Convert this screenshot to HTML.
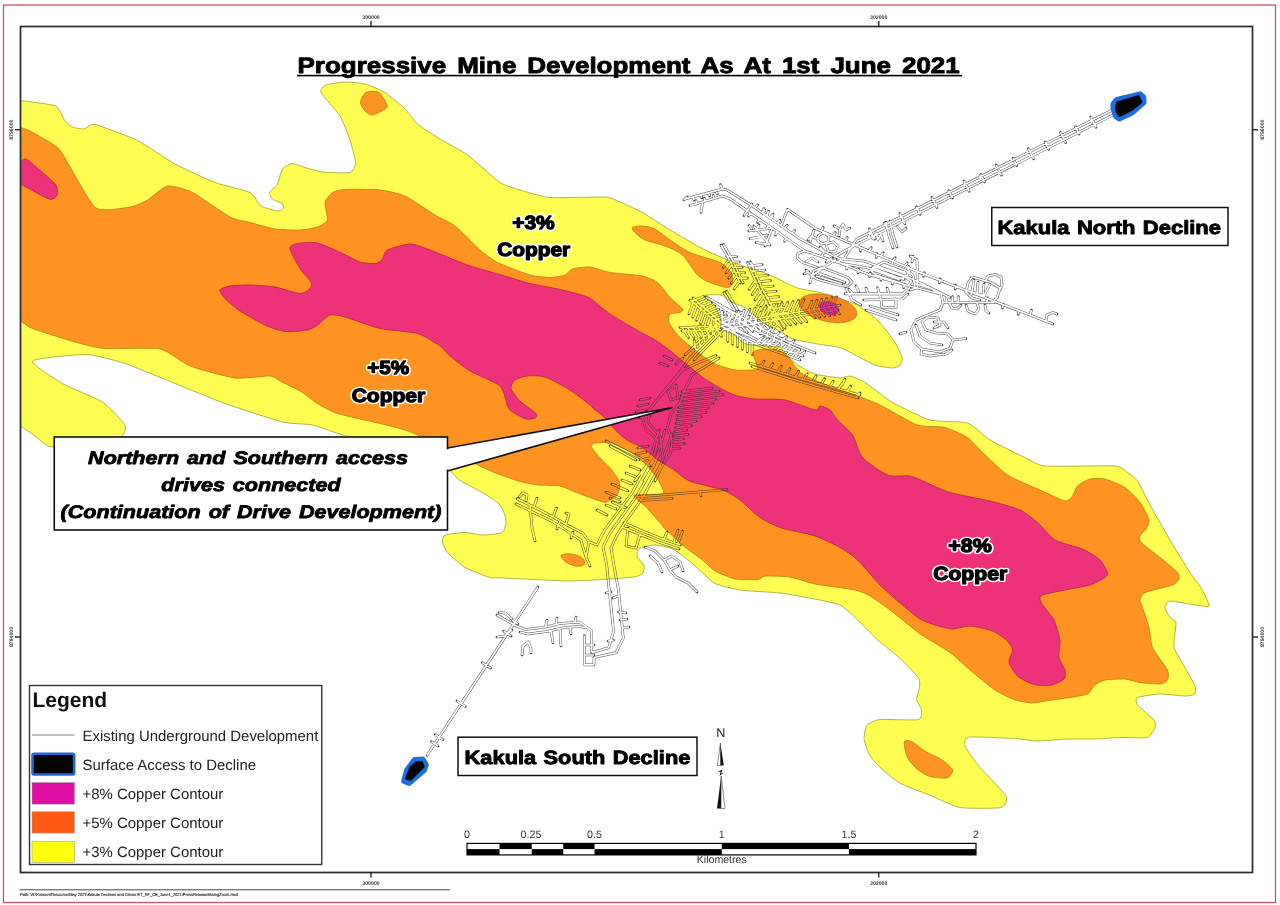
<!DOCTYPE html>
<html><head><meta charset="utf-8"><title>Progressive Mine Development As At 1st June 2021</title>
<style>
html,body{margin:0;padding:0;background:#fff;}
body{width:1280px;height:905px;overflow:hidden;font-family:"Liberation Sans", sans-serif;}
svg{display:block;font-family:"Liberation Sans", sans-serif;opacity:0.999;text-rendering:geometricPrecision;}
</style></head><body>
<svg width="1280" height="905" viewBox="0 0 1280 905">
<defs><clipPath id="frameclip"><rect x="20.5" y="26.5" width="1232" height="846"/></clipPath></defs>
<rect width="1280" height="905" fill="#fff"/>

<g clip-path="url(#frameclip)" stroke-linejoin="round">
<path d="M0.0,97.3 C1.9,68.8 15.4,99.7 20.5,100.5 C25.6,101.3 51.4,104.1 55.5,106.0 C59.6,107.9 63.4,119.1 65.0,121.0 C66.6,122.9 70.8,126.3 72.5,127.0 C74.2,127.7 81.9,129.2 84.0,129.0 C86.1,128.8 90.1,123.4 95.0,124.5 C99.9,125.6 130.2,136.9 137.5,140.5 C144.8,144.1 167.9,160.2 175.0,164.0 C182.1,167.8 208.1,179.9 215.0,182.5 C221.9,185.1 245.8,190.3 250.0,192.5 C254.2,194.7 258.5,204.3 261.0,206.0 C263.5,207.7 275.5,210.7 277.5,211.0 C279.5,211.3 282.5,209.6 283.0,209.0 C283.5,208.4 283.5,204.9 282.5,204.0 C281.5,203.1 273.7,200.1 272.5,199.0 C271.3,197.9 269.1,193.3 269.5,192.0 C269.9,190.7 275.8,187.1 277.0,185.0 C278.2,182.9 281.1,171.0 282.5,169.0 C283.9,167.0 290.4,163.6 292.5,163.5 C294.6,163.4 302.2,166.7 305.0,167.5 C307.8,168.3 318.4,171.5 322.5,172.0 C326.6,172.5 347.0,173.4 350.0,172.5 C353.0,171.6 355.5,165.5 355.5,162.5 C355.5,159.5 351.4,144.3 350.0,140.0 C348.6,135.7 342.7,120.4 340.0,116.0 C337.3,111.6 322.3,95.3 321.0,92.5 C319.7,89.7 323.8,86.0 326.0,85.0 C328.2,84.0 341.4,82.1 345.0,82.0 C348.6,81.9 361.3,83.0 365.0,84.0 C368.7,85.0 381.3,90.2 385.0,92.5 C388.7,94.8 402.0,106.1 405.0,109.0 C408.0,111.9 414.3,121.2 417.5,124.0 C420.7,126.8 435.4,136.2 440.0,139.0 C444.6,141.8 462.0,151.0 467.5,155.0 C473.0,159.0 495.2,179.3 500.0,182.5 C504.8,185.7 515.4,188.6 520.0,190.0 C524.6,191.4 542.2,196.9 550.0,197.5 C557.8,198.1 598.8,196.7 605.0,197.0 C611.2,197.3 614.1,199.6 617.5,201.0 C620.9,202.4 637.7,209.8 642.5,212.5 C647.3,215.2 664.3,226.6 670.0,230.0 C675.7,233.4 698.6,246.8 705.0,250.0 C711.4,253.2 734.3,262.8 740.0,265.0 C745.7,267.2 762.2,271.9 767.5,274.0 C772.8,276.1 792.7,286.3 797.5,288.0 C802.3,289.7 814.7,291.0 820.0,292.5 C825.3,294.0 849.7,301.5 855.0,304.0 C860.3,306.5 873.8,316.5 877.5,320.0 C881.2,323.5 892.8,339.1 895.0,342.5 C897.2,345.9 901.5,355.4 902.0,357.5 C902.5,359.6 900.9,364.0 900.0,365.0 C899.1,366.0 894.8,368.0 892.5,368.0 C890.2,368.0 878.4,366.2 875.0,365.0 C871.6,363.8 858.2,356.6 855.0,355.0 C851.8,353.4 843.4,348.5 840.0,347.5 C836.6,346.5 821.9,344.8 817.5,344.0 C813.1,343.2 795.9,340.2 792.5,339.0 C789.1,337.8 782.5,332.4 780.0,331.0 C777.5,329.6 767.3,325.4 765.0,324.0 C762.7,322.6 756.8,317.5 755.0,316.0 C753.2,314.5 747.1,308.7 745.0,307.5 C742.9,306.3 734.7,303.6 732.5,302.5 C730.3,301.4 723.4,295.6 721.0,295.0 C718.6,294.4 706.5,294.5 706.0,295.5 C705.5,296.5 713.6,303.8 715.0,306.0 C716.4,308.2 720.5,317.9 721.0,320.0 C721.5,322.1 719.8,327.6 721.0,329.0 C722.2,330.4 731.7,333.6 734.0,335.0 C736.3,336.4 742.9,343.0 746.0,344.0 C749.1,345.0 764.4,345.7 767.5,346.0 C770.6,346.3 778.0,346.4 780.0,347.5 C782.0,348.6 787.4,355.9 789.0,357.5 C790.6,359.1 795.1,363.5 797.5,365.0 C799.9,366.5 811.1,372.8 815.0,374.0 C818.9,375.2 836.8,377.8 840.0,378.0 C843.2,378.2 847.7,375.6 850.0,376.0 C852.3,376.4 861.1,380.1 865.0,382.5 C868.9,384.9 886.5,399.1 892.5,402.5 C898.5,405.9 923.1,418.1 930.0,420.0 C936.9,421.9 962.0,421.2 967.5,423.0 C973.0,424.8 984.7,436.8 990.0,440.0 C995.3,443.2 1020.0,455.1 1025.0,457.5 C1030.0,459.9 1036.8,465.2 1045.0,466.0 C1053.2,466.8 1107.4,465.4 1115.0,466.0 C1122.6,466.6 1125.4,471.1 1127.5,472.5 C1129.6,473.9 1135.4,478.0 1137.5,481.0 C1139.6,484.0 1147.0,499.6 1150.0,505.0 C1153.0,510.4 1166.3,533.8 1170.0,540.0 C1173.7,546.2 1187.0,567.9 1190.0,572.5 C1193.0,577.1 1200.8,586.9 1202.5,590.0 C1204.2,593.1 1209.7,604.6 1209.0,606.0 C1208.3,607.4 1198.6,605.5 1195.0,605.0 C1191.4,604.5 1172.8,600.8 1170.0,601.0 C1167.2,601.2 1165.0,606.0 1165.0,607.5 C1165.0,609.0 1169.0,616.1 1170.0,617.5 C1171.0,618.9 1175.6,619.8 1176.0,622.5 C1176.4,625.2 1173.2,643.4 1174.0,647.5 C1174.8,651.6 1183.1,664.0 1185.0,667.5 C1186.9,671.0 1194.1,683.6 1195.0,686.0 C1195.9,688.4 1195.9,693.1 1195.0,694.0 C1194.1,694.9 1188.2,696.0 1185.0,696.0 C1181.8,696.0 1164.4,693.9 1160.0,694.0 C1155.6,694.1 1139.6,696.5 1137.5,697.5 C1135.4,698.5 1136.0,702.9 1137.5,705.0 C1139.0,707.1 1152.4,717.9 1154.0,720.0 C1155.6,722.1 1155.6,725.9 1155.0,727.5 C1154.4,729.1 1150.7,736.6 1147.5,737.5 C1144.3,738.4 1124.8,737.4 1120.0,737.5 C1115.2,737.6 1099.6,738.9 1095.0,739.0 C1090.4,739.1 1075.3,738.8 1070.0,739.0 C1064.7,739.2 1042.1,741.0 1037.5,741.0 C1032.9,741.0 1026.2,739.4 1020.0,739.0 C1013.8,738.6 975.0,736.4 970.0,737.0 C965.0,737.6 964.1,743.2 965.0,746.0 C965.9,748.8 976.2,762.9 980.0,767.5 C983.8,772.1 1004.1,792.3 1006.0,796.0 C1007.9,799.7 1005.2,806.4 1001.0,807.5 C996.8,808.6 966.6,808.6 960.0,807.5 C953.4,806.4 934.9,797.2 929.4,795.0 C923.9,792.8 904.2,785.6 899.6,783.0 C895.0,780.4 882.4,769.5 879.7,767.0 C877.0,764.5 871.1,757.9 869.7,755.4 C868.3,752.9 864.5,742.2 864.2,739.5 C863.9,736.8 865.3,727.3 866.7,725.5 C868.1,723.7 875.0,720.1 879.7,719.6 C884.4,719.1 914.7,720.5 918.5,719.6 C922.3,718.7 921.7,711.4 921.5,709.6 C921.3,707.8 916.7,701.7 916.5,699.7 C916.3,697.7 919.3,689.7 919.5,687.7 C919.7,685.7 920.3,680.5 918.5,677.8 C916.7,675.1 903.3,661.5 899.6,658.0 C895.9,654.5 882.0,643.9 877.7,640.0 C873.4,636.1 856.0,618.2 852.5,615.0 C849.0,611.8 843.4,606.5 840.0,605.0 C836.6,603.5 820.5,600.1 815.0,599.0 C809.5,597.9 786.9,593.8 780.0,593.0 C773.1,592.2 746.0,590.9 740.0,590.0 C734.0,589.1 718.1,584.8 715.0,583.5 C711.9,582.2 708.4,578.1 706.0,576.0 C703.6,573.9 692.1,563.1 689.0,560.6 C685.9,558.1 675.1,550.0 672.0,548.6 C668.9,547.2 657.4,545.1 654.7,545.0 C652.0,544.9 644.3,546.5 642.7,547.0 C641.1,547.5 638.0,549.1 637.5,550.0 C637.0,550.9 636.9,555.6 637.5,557.0 C638.1,558.4 643.5,564.3 644.0,565.8 C644.5,567.3 643.6,572.5 642.7,573.5 C641.8,574.5 637.6,576.5 634.0,577.0 C630.4,577.5 609.0,579.1 603.0,579.5 C597.0,579.9 575.1,581.0 568.8,581.0 C562.4,581.0 540.3,579.8 534.0,579.5 C527.7,579.2 504.0,578.0 500.0,577.8 C496.0,577.6 493.2,578.4 490.0,577.5 C486.8,576.6 468.9,569.8 465.0,567.5 C461.1,565.2 449.6,554.8 447.5,552.5 C445.4,550.2 442.7,544.1 442.5,542.5 C442.3,540.9 442.9,535.9 445.0,535.0 C447.1,534.1 461.6,532.5 465.0,532.5 C468.4,532.5 479.1,535.0 482.5,535.0 C485.9,535.0 500.3,533.9 502.5,532.5 C504.7,531.1 506.2,522.5 506.0,520.0 C505.8,517.5 502.2,507.5 500.0,505.0 C497.8,502.5 486.2,494.7 482.5,492.5 C478.8,490.3 463.3,482.7 460.0,480.5 C456.7,478.3 451.5,470.6 446.0,468.0 C440.5,465.4 408.8,454.8 400.0,452.0 C391.2,449.2 355.3,438.6 350.0,437.0 C344.7,435.4 345.9,436.1 342.5,435.0 C339.1,433.9 318.0,426.2 312.5,425.0 C307.0,423.8 290.5,424.0 282.5,422.0 C274.5,420.0 234.9,407.0 225.0,403.5 C215.1,400.0 184.2,387.2 175.0,383.5 C165.8,379.8 133.2,366.2 125.0,363.5 C116.8,360.8 94.5,354.7 86.0,354.5 C77.5,354.3 34.7,358.3 32.5,361.0 C30.3,363.7 56.1,379.7 62.5,383.5 C68.9,387.3 96.8,398.2 102.5,402.0 C108.2,405.8 123.2,421.8 125.0,425.0 C126.8,428.2 123.0,435.1 122.5,437.0 C122.0,438.9 126.3,445.1 120.0,446.0 C113.7,446.9 61.0,447.2 54.0,447.0 C47.0,446.8 45.7,444.5 44.0,443.5 C42.3,442.5 37.2,437.6 35.0,436.0 C32.8,434.4 23.7,428.2 20.5,426.0 C17.3,423.8 1.9,442.0 0.0,411.9 C-1.9,381.8 -1.9,125.8 0.0,97.3Z" fill="#fffd52" stroke="#a9a93a" stroke-width="0.9"/>
<path d="M0.0,119.9 C2.0,101.8 17.5,126.4 20.5,127.5 C23.5,128.6 26.3,129.0 30.0,131.0 C33.7,133.0 53.6,144.1 57.5,147.5 C61.4,150.9 65.2,158.9 69.0,165.0 C72.8,171.1 89.9,203.8 96.0,208.0 C102.1,212.2 124.8,207.8 130.0,207.0 C135.2,206.2 143.8,202.1 147.5,200.0 C151.2,197.9 163.0,186.8 167.5,186.0 C172.0,185.2 186.2,189.4 192.5,192.5 C198.8,195.6 224.2,214.0 230.0,217.0 C235.8,220.0 245.5,221.3 250.0,222.5 C254.5,223.7 270.0,228.2 275.0,229.0 C280.0,229.8 295.8,230.2 300.0,230.0 C304.2,229.8 314.8,228.0 317.5,227.0 C320.2,226.0 326.8,222.4 327.5,220.0 C328.2,217.6 324.5,205.2 325.0,202.5 C325.5,199.8 330.5,193.8 332.5,192.5 C334.5,191.2 340.2,189.8 345.0,189.5 C349.8,189.2 374.0,189.3 380.0,190.0 C386.0,190.7 399.5,193.5 405.0,196.0 C410.5,198.5 430.0,212.0 435.0,215.0 C440.0,218.0 450.5,222.5 455.0,226.0 C459.5,229.5 475.8,246.3 480.0,250.0 C484.2,253.7 492.5,260.0 497.5,262.5 C502.5,265.0 524.8,273.5 530.0,275.0 C535.2,276.5 546.5,277.5 550.0,277.5 C553.5,277.5 562.8,275.9 565.0,275.0 C567.2,274.1 570.0,269.8 572.5,269.0 C575.0,268.2 586.2,266.6 590.0,267.0 C593.8,267.4 604.8,271.6 610.0,272.5 C615.2,273.4 637.8,275.0 642.5,276.0 C647.2,277.0 654.8,280.4 657.5,282.5 C660.2,284.6 667.5,294.9 670.0,297.5 C672.5,300.1 681.5,307.5 682.5,309.0 C683.5,310.5 681.2,312.0 680.0,312.5 C678.8,313.0 671.1,313.0 670.0,314.0 C668.9,315.0 668.2,320.4 669.0,322.5 C669.8,324.6 675.6,332.9 677.5,335.0 C679.4,337.1 684.8,341.8 687.5,344.0 C690.2,346.2 702.0,355.4 705.0,357.5 C708.0,359.6 714.5,363.8 717.5,365.0 C720.5,366.2 731.8,369.5 735.0,370.0 C738.2,370.5 747.8,370.1 750.0,370.0 C752.2,369.9 757.0,370.0 757.5,369.0 C758.0,368.0 755.5,361.6 755.0,360.0 C754.5,358.4 752.0,353.6 752.5,352.5 C753.0,351.4 758.5,349.9 760.0,349.5 C761.5,349.1 765.8,348.9 767.5,349.0 C769.2,349.1 775.5,349.3 777.5,350.0 C779.5,350.7 785.6,354.2 787.5,356.0 C789.4,357.8 794.8,365.9 796.0,367.5 C797.2,369.1 797.6,371.0 800.0,372.5 C802.4,374.0 814.5,380.2 820.0,382.5 C825.5,384.8 849.0,392.8 855.0,395.0 C861.0,397.2 873.8,402.0 880.0,405.0 C886.2,408.0 911.0,422.8 917.5,425.0 C924.0,427.2 940.0,426.2 945.0,427.5 C950.0,428.8 963.8,435.0 967.5,437.5 C971.2,440.0 978.5,448.8 982.5,452.5 C986.5,456.2 1001.8,471.2 1007.5,475.0 C1013.2,478.8 1034.2,487.4 1040.0,490.0 C1045.8,492.6 1061.8,500.4 1065.0,501.0 C1068.2,501.6 1071.2,497.5 1072.5,496.0 C1073.8,494.5 1075.8,487.7 1077.5,486.0 C1079.2,484.3 1087.2,479.7 1090.0,479.0 C1092.8,478.3 1101.5,478.1 1105.0,479.0 C1108.5,479.9 1121.5,485.1 1125.0,487.5 C1128.5,489.9 1137.6,499.2 1140.0,502.5 C1142.4,505.8 1148.4,517.4 1149.0,520.0 C1149.6,522.6 1146.9,527.4 1146.0,529.0 C1145.1,530.6 1140.5,534.6 1140.0,536.0 C1139.5,537.4 1139.0,540.4 1141.0,542.5 C1143.0,544.6 1156.3,554.5 1160.0,557.5 C1163.7,560.5 1175.6,570.4 1177.5,572.5 C1179.4,574.6 1179.5,577.8 1179.0,579.0 C1178.5,580.2 1175.9,583.6 1172.5,585.0 C1169.1,586.4 1148.2,591.0 1145.0,592.5 C1141.8,594.0 1140.2,598.5 1140.0,600.0 C1139.8,601.5 1141.6,604.8 1142.5,607.5 C1143.4,610.2 1148.0,623.5 1149.0,627.5 C1150.0,631.5 1150.7,643.2 1152.5,647.5 C1154.3,651.8 1166.0,666.8 1167.5,670.0 C1169.0,673.2 1168.2,678.6 1167.5,680.0 C1166.8,681.4 1162.8,683.8 1160.0,684.0 C1157.2,684.2 1143.5,683.0 1140.0,682.5 C1136.5,682.0 1128.5,679.2 1125.0,679.0 C1121.5,678.8 1108.0,679.4 1105.0,680.0 C1102.0,680.6 1096.8,683.6 1095.0,685.0 C1093.2,686.4 1090.0,692.8 1087.5,694.0 C1085.0,695.2 1074.2,696.8 1070.0,697.5 C1065.8,698.2 1048.8,700.5 1045.0,701.0 C1041.2,701.5 1035.5,703.1 1032.5,703.0 C1029.5,702.9 1018.8,701.3 1015.0,700.0 C1011.2,698.7 999.5,693.0 995.0,690.0 C990.5,687.0 974.5,673.8 970.0,670.0 C965.5,666.2 955.0,656.1 950.0,652.5 C945.0,648.9 923.5,636.2 920.0,634.0 C916.5,631.8 918.0,632.4 915.0,630.0 C912.0,627.6 894.5,613.4 890.0,610.0 C885.5,606.6 873.5,598.0 870.0,596.0 C866.5,594.0 860.5,591.2 855.0,590.0 C849.5,588.8 821.5,585.3 815.0,584.0 C808.5,582.7 795.0,577.8 790.0,577.0 C785.0,576.2 768.2,575.8 765.0,576.0 C761.8,576.2 760.5,579.2 757.5,579.5 C754.5,579.8 739.2,579.9 735.0,579.0 C730.8,578.1 718.2,572.9 715.0,571.0 C711.8,569.1 705.8,562.6 702.5,560.0 C699.2,557.4 686.2,548.1 682.5,545.0 C678.8,541.9 667.1,531.0 665.0,529.0 C662.9,527.0 663.5,526.7 661.6,524.5 C659.7,522.3 648.8,509.9 646.0,507.0 C643.2,504.1 632.3,496.6 634.0,495.3 C635.7,494.0 660.6,495.1 663.0,493.6 C665.4,492.1 659.7,483.0 658.0,480.0 C656.3,477.0 648.7,466.8 646.0,464.0 C643.3,461.2 634.0,454.1 630.6,452.0 C627.2,449.9 615.2,443.9 611.7,443.0 C608.2,442.1 598.1,442.7 596.0,443.0 C593.9,443.3 590.8,444.7 591.0,446.0 C591.2,447.3 596.1,453.6 598.0,455.8 C599.9,458.0 607.9,465.4 610.0,467.8 C612.1,470.2 617.6,478.1 618.6,480.0 C619.6,481.9 620.2,485.2 620.0,486.7 C619.8,488.2 618.3,493.5 617.0,495.0 C615.7,496.5 608.3,501.4 606.6,502.0 C604.9,502.6 602.7,501.9 599.7,501.0 C596.7,500.1 581.0,494.2 577.0,492.7 C573.0,491.2 563.9,486.8 560.0,486.0 C556.1,485.2 541.7,485.4 537.8,485.0 C533.9,484.6 524.4,482.6 520.6,481.6 C516.8,480.6 504.1,476.3 500.0,474.7 C495.9,473.1 488.0,469.9 480.0,466.0 C472.0,462.1 427.5,439.6 420.0,436.0 C412.5,432.4 409.0,431.2 405.0,430.0 C401.0,428.8 386.8,425.1 380.0,423.5 C373.2,421.9 343.8,415.5 337.5,413.5 C331.2,411.5 321.2,405.8 317.5,403.5 C313.8,401.2 303.8,393.2 300.0,391.0 C296.2,388.8 283.0,382.5 280.0,381.0 C277.0,379.5 274.5,376.3 270.0,376.0 C265.5,375.7 243.0,379.0 235.0,378.0 C227.0,377.0 197.5,368.9 190.0,366.0 C182.5,363.1 168.5,350.8 160.0,349.0 C151.5,347.2 113.5,349.2 105.0,348.5 C96.5,347.8 82.2,344.0 75.0,342.0 C67.8,340.0 38.0,330.6 32.5,328.5 C27.1,326.4 23.8,323.0 20.5,321.0 C17.2,319.0 2.0,328.3 0.0,308.2 C-2.0,288.1 -2.0,138.0 0.0,119.9Z" fill="#ff9322" stroke="#bf8410" stroke-width="0.9"/>
<path d="M220.0,290.0 C220.6,288.5 226.5,286.6 230.0,286.0 C233.5,285.4 244.8,284.9 250.0,285.0 C255.2,285.1 269.2,286.0 275.0,287.0 C280.8,288.0 295.9,293.3 300.0,293.5 C304.1,293.7 308.7,289.8 310.0,288.5 C311.3,287.2 312.2,284.3 311.0,282.0 C309.8,279.7 302.4,272.4 300.0,268.5 C297.6,264.6 290.3,251.4 290.0,248.5 C289.7,245.6 294.3,244.1 297.5,243.5 C300.7,242.9 312.2,241.8 317.5,243.0 C322.8,244.2 337.5,251.3 342.5,253.5 C347.5,255.7 356.1,260.8 360.0,262.0 C363.9,263.2 373.4,263.9 376.0,263.5 C378.6,263.1 381.2,260.6 382.5,259.0 C383.8,257.4 384.3,251.8 387.5,250.0 C390.7,248.2 405.0,244.0 410.0,244.0 C415.0,244.0 423.3,247.6 430.0,250.0 C436.7,252.4 458.8,262.0 467.5,265.0 C476.2,268.0 497.7,273.8 505.0,276.0 C512.3,278.2 523.3,281.9 530.0,283.5 C536.7,285.1 555.8,288.4 562.5,290.0 C569.2,291.6 583.1,295.1 587.5,297.0 C591.9,298.9 597.4,304.0 600.0,306.0 C602.6,308.0 605.9,311.3 610.0,314.0 C614.1,316.7 629.8,326.0 635.0,329.0 C640.2,332.0 651.1,337.7 655.0,340.0 C658.9,342.3 664.0,345.9 668.0,349.0 C672.0,352.1 685.1,363.1 689.4,366.6 C693.7,370.1 701.4,376.5 705.0,379.0 C708.6,381.5 717.0,386.5 720.6,388.4 C724.2,390.3 732.0,394.3 736.0,395.5 C740.0,396.7 749.3,398.5 755.0,399.0 C760.7,399.5 778.0,398.7 785.0,400.0 C792.0,401.3 810.9,409.3 815.0,410.0 C819.1,410.7 818.2,406.0 820.0,406.0 C821.8,406.0 828.0,408.4 830.0,410.0 C832.0,411.6 834.9,417.1 837.5,420.0 C840.1,422.9 849.6,430.6 852.5,435.0 C855.4,439.4 858.4,452.8 862.5,457.5 C866.6,462.2 882.0,472.8 887.5,475.0 C893.0,477.2 905.6,475.2 910.0,476.0 C914.4,476.8 920.3,480.1 925.0,482.0 C929.7,483.9 942.4,490.3 950.0,492.5 C957.6,494.7 981.8,499.0 990.0,501.0 C998.2,503.0 1014.5,507.5 1020.0,510.0 C1025.5,512.5 1033.4,519.0 1037.5,522.5 C1041.6,526.0 1049.8,536.9 1055.0,540.0 C1060.2,543.1 1077.2,546.7 1082.5,549.0 C1087.8,551.3 1097.1,557.3 1100.0,560.0 C1102.9,562.7 1106.9,570.5 1107.5,572.5 C1108.1,574.5 1107.0,576.0 1105.0,577.5 C1103.0,579.0 1094.1,583.7 1090.0,585.0 C1085.9,586.3 1075.5,587.8 1070.0,589.0 C1064.5,590.2 1045.9,593.4 1042.5,595.0 C1039.1,596.6 1039.8,599.9 1041.0,602.5 C1042.2,605.1 1050.9,615.2 1052.5,617.5 C1054.1,619.8 1054.1,619.9 1055.0,622.5 C1055.9,625.1 1059.5,635.9 1060.0,640.0 C1060.5,644.1 1058.4,654.0 1059.0,657.5 C1059.6,661.0 1064.4,667.5 1065.0,670.0 C1065.6,672.5 1065.8,677.2 1064.0,679.0 C1062.2,680.8 1053.7,684.9 1050.0,685.5 C1046.3,686.1 1036.3,685.1 1032.5,684.0 C1028.7,682.9 1020.2,678.5 1017.5,676.0 C1014.8,673.5 1009.6,665.5 1009.0,662.5 C1008.4,659.5 1012.7,652.5 1012.5,650.0 C1012.3,647.5 1009.8,643.2 1007.5,641.0 C1005.2,638.8 996.9,632.8 992.5,631.0 C988.1,629.2 974.7,626.2 970.0,626.0 C965.3,625.8 956.6,629.1 952.5,629.0 C948.4,628.9 938.8,626.2 935.0,625.0 C931.2,623.8 923.8,621.3 920.0,619.0 C916.2,616.7 907.2,609.0 902.5,605.0 C897.8,601.0 885.2,590.2 880.0,585.0 C874.8,579.8 862.2,564.4 857.5,560.0 C852.8,555.6 845.0,550.3 840.0,547.5 C835.0,544.7 822.0,538.3 815.0,536.0 C808.0,533.7 786.4,529.7 780.0,527.5 C773.6,525.3 764.7,520.7 760.0,517.5 C755.3,514.3 744.4,503.2 740.0,500.0 C735.6,496.8 728.4,492.2 722.5,490.0 C716.6,487.8 695.1,483.4 689.4,481.0 C683.7,478.6 677.4,472.1 673.8,469.7 C670.1,467.2 661.6,462.6 658.0,460.0 C654.4,457.4 646.1,450.1 642.5,447.8 C638.9,445.5 630.1,442.0 627.0,440.0 C623.9,438.0 618.6,433.2 616.0,430.6 C613.4,428.0 607.4,420.4 605.0,418.0 C602.6,415.6 597.9,412.3 595.6,410.3 C593.3,408.3 588.3,403.5 585.0,401.0 C581.7,398.5 572.2,391.3 567.5,388.5 C562.8,385.7 549.7,378.5 545.0,377.0 C540.3,375.5 531.0,375.6 527.5,376.0 C524.0,376.4 516.9,378.5 515.0,380.0 C513.1,381.5 510.4,386.1 511.0,388.5 C511.6,390.9 517.1,398.1 520.0,401.0 C522.9,403.9 534.2,411.5 536.0,413.5 C537.8,415.5 536.2,417.4 535.0,418.0 C533.8,418.6 528.6,419.7 526.0,419.0 C523.4,418.3 514.7,413.5 512.5,412.0 C510.3,410.5 509.0,409.0 507.5,406.0 C506.0,403.0 504.4,390.1 500.0,386.0 C495.6,381.9 475.8,374.5 470.0,371.0 C464.2,367.5 453.5,358.9 450.0,356.0 C446.5,353.1 443.8,348.6 440.0,346.0 C436.2,343.4 424.5,335.5 417.5,333.5 C410.5,331.5 388.5,330.4 380.0,328.5 C371.5,326.6 350.8,318.6 345.0,317.0 C339.2,315.4 333.2,314.1 330.0,315.0 C326.8,315.9 320.1,323.2 317.5,325.0 C314.9,326.8 311.3,329.2 307.5,330.0 C303.7,330.8 290.0,332.1 285.0,331.5 C280.0,330.9 270.2,327.4 265.0,325.0 C259.8,322.6 244.7,314.1 240.0,311.0 C235.3,307.9 227.3,300.9 225.0,298.5 C222.7,296.1 219.4,291.5 220.0,290.0Z" fill="#ee327a" stroke="#b82a48" stroke-width="0.9"/>
<path d="M0.0,164.0 C2.4,162.6 17.3,161.5 20.5,161.0 C23.7,160.5 23.5,157.3 27.5,160.0 C31.5,162.7 51.6,179.9 55.0,184.0 C58.4,188.1 57.7,193.2 57.0,195.0 C56.3,196.8 53.3,200.3 49.0,199.0 C44.7,197.7 26.2,187.0 20.5,184.0 C14.8,181.0 2.4,175.5 0.0,173.2 C-2.4,170.9 -2.4,165.4 0.0,164.0Z" fill="#ee327a" stroke="#b82a48" stroke-width="0.9"/>
<path d="M360.5,102.5 C360.6,100.0 363.5,93.8 366.0,92.5 C368.5,91.2 376.2,90.8 379.0,92.5 C381.8,94.2 386.2,102.8 387.0,105.0 C387.8,107.2 386.9,107.7 385.0,109.0 C383.1,110.3 375.2,114.7 372.5,115.0 C369.8,115.3 366.6,112.7 365.0,111.0 C363.4,109.3 360.4,105.0 360.5,102.5Z" fill="#ff9322" stroke="#bf8410" stroke-width="0.9"/>
<path d="M632.5,227.5 C633.5,226.6 639.5,225.8 642.5,226.0 C645.5,226.2 651.3,227.1 655.0,229.0 C658.7,230.9 665.3,236.9 670.0,240.0 C674.7,243.1 683.3,249.5 690.0,252.5 C696.7,255.5 714.5,259.8 720.0,262.5 C725.5,265.2 729.3,269.8 731.0,272.5 C732.7,275.2 733.0,280.5 732.5,282.5 C732.0,284.5 730.5,287.5 727.5,287.5 C724.5,287.5 714.0,284.2 710.0,282.5 C706.0,280.8 701.2,278.7 697.5,275.0 C693.8,271.3 686.8,258.9 682.5,255.0 C678.2,251.1 670.0,248.0 665.0,246.0 C660.0,244.0 649.0,241.8 645.0,240.0 C641.0,238.2 636.7,234.2 635.0,232.5 C633.3,230.8 631.5,228.4 632.5,227.5Z" fill="#ff9322" stroke="#bf8410" stroke-width="0.9"/>
<path d="M561.0,555.5 C561.5,554.5 566.4,553.7 568.8,553.8 C571.1,553.8 576.8,555.0 579.0,556.0 C581.2,557.0 584.5,560.2 585.0,561.5 C585.5,562.8 584.0,565.2 582.5,565.8 C581.0,566.4 576.3,566.4 574.0,565.8 C571.7,565.2 566.7,562.9 565.0,561.5 C563.3,560.1 560.5,556.5 561.0,555.5Z" fill="#ff9322" stroke="#bf8410" stroke-width="0.9"/>
<path d="M904.5,741.5 C905.3,740.2 908.7,740.2 911.5,741.5 C914.3,742.8 921.4,749.0 925.4,751.4 C929.4,753.8 937.7,757.0 941.3,759.4 C944.9,761.8 951.1,767.2 952.3,769.3 C953.5,771.4 951.2,774.1 950.3,775.3 C949.4,776.5 948.1,778.1 945.3,778.2 C942.5,778.3 933.1,777.5 929.4,776.3 C925.7,775.1 920.3,771.6 917.5,769.3 C914.7,767.0 910.1,761.8 908.5,759.4 C906.9,757.0 906.0,753.8 905.5,751.4 C905.0,749.0 903.7,742.8 904.5,741.5Z" fill="#ff9322" stroke="#bf8410" stroke-width="0.9"/>
<ellipse cx="828" cy="308.3" rx="29.5" ry="13.2" transform="rotate(13 828 308.3)" fill="#f58a20" stroke="#b06c18" stroke-width="0.6"/>
<ellipse cx="828.8" cy="308" rx="10.5" ry="6.8" transform="rotate(18 828.8 308)" fill="#e0308a"/>
</g>


<defs>
<filter id="soft" x="0" y="0" width="1280" height="905" filterUnits="userSpaceOnUse"><feGaussianBlur stdDeviation="0.35"/></filter>
<mask id="mcut" maskUnits="userSpaceOnUse" x="0" y="0" width="1280" height="905">
<rect x="0" y="0" width="1280" height="905" fill="#fff"/>
<path d="M1111.9,110.2 L856.4,239.2 L845.0,257.5 L838.0,262.0 M1114.1,114.4 L858.6,243.4 L841.0,253.0 L834.0,257.0 M1096.0,127.4 L1090.7,117.0 M1079.2,134.1 L1075.4,126.6 M1065.6,142.7 L1060.4,132.4 M1048.8,149.4 L1045.0,141.9 M1033.5,158.9 L1028.3,148.6 M1016.7,165.6 L1012.9,158.1 M1001.4,175.2 L996.1,164.8 M984.6,181.9 L980.8,174.4 M969.2,191.4 L964.0,181.0 M952.4,198.1 L948.6,190.6 M937.1,207.6 L931.9,197.3 M920.3,214.3 L916.5,206.8 M904.9,223.8 L899.7,213.5 M888.2,230.5 L884.4,223.0 M874.6,239.2 L869.4,228.8 M686.0,198.8 L721.0,189.4 L726.0,189.4 L750.0,204.4 L780.0,225.0 L800.0,238.8 L821.0,250.0 L840.0,258.8 L864.0,261.0 L909.0,277.5 L950.0,297.5 M690.0,205.6 L702.5,202.0 L722.5,196.0 L730.0,198.8 L745.0,209.4 L775.0,230.0 L797.5,246.0 L805.0,251.0 L840.0,263.0 L870.0,275.0 L915.0,287.5 L941.0,294.0 L943.0,302.4 L994.5,302.4 M702.5,203.0 L701.0,212.5 M752.0,203.8 L744.0,215.6 M722.0,189.0 L720.5,184.5 M687.0,197.0 L684.0,200.0 M787.5,209.4 L816.0,228.8 L840.0,238.8 L917.0,271.4 L1053.0,324.0 M787.5,209.4 L781.0,226.0 M814.0,230.0 L810.0,242.0 M1046.0,321.5 L1047.0,315.0 L1053.0,312.5 L1057.0,314.0 M1030.0,315.0 L1031.5,310.0 M762.5,213.0 L764.0,208.5 M767.0,216.0 L768.5,211.0 M771.5,219.0 L773.0,214.0 M753.8,226.0 L770.0,245.0 M772.0,228.8 L765.0,246.0 M748.8,231.0 L772.5,228.0 M750.0,238.8 L767.5,235.0 M756.0,242.5 L770.0,245.0 M749.0,225.5 L752.0,229.0 M759.0,225.0 L757.0,229.0 M834.0,226.0 L840.0,229.0 L843.0,224.0 L846.0,230.0 L850.0,228.0 M840.0,229.0 L839.0,236.0 M836.0,259.5 L822.0,268.5 L812.0,276.0 M813.5,271.0 L822.0,267.5 L848.0,277.5 L852.0,282.0 L848.0,286.0 L842.0,286.0 L818.0,279.5 L812.0,276.0 L813.5,271.0 M818.0,273.0 L845.0,282.5 M816.0,276.0 L842.0,284.0 M806.0,270.0 L812.0,276.0 L810.0,283.0 M804.0,274.0 L809.0,272.0 M805.0,251.0 L798.0,253.5 L797.5,258.0 L802.5,262.5 L817.5,267.5 M840.0,263.0 L868.0,268.0 L900.0,280.0 M872.0,268.0 L878.0,265.0 L884.0,262.0 L905.0,270.0 L913.0,275.0 L915.0,287.5 M873.0,268.0 L900.0,278.5 L906.0,277.0 L910.0,270.0 M910.0,256.0 L917.0,260.0 L917.5,287.5 L910.0,290.0 M913.0,256.0 L912.0,262.0 M845.0,293.8 L902.5,293.8 L910.0,287.5 M863.8,300.0 L902.5,298.8 L908.0,294.0 M877.5,287.5 L881.0,300.0 L882.0,307.5 L896.0,307.5 L896.0,300.0 M849.0,289.0 L853.0,294.0 M866.0,288.0 L868.0,293.8 M887.0,288.0 L889.0,293.8 M866.0,310.0 L896.0,320.0 M870.0,306.0 L898.0,315.0 M915.0,283.4 L932.0,289.0 L941.0,294.0 M943.0,302.4 L940.0,310.0 L930.0,314.0 L916.0,320.0 L911.0,330.0 L914.0,342.0 L922.0,349.0 L940.0,352.0 L950.0,348.0 L953.0,340.0 L948.0,334.0 L936.0,333.0 L926.0,330.0 L922.0,322.0 L928.0,317.0 L938.0,318.0 L940.0,325.0 L934.0,328.0 M922.0,349.0 L921.0,354.0 L930.0,356.0 L946.0,354.0 L952.0,350.0 M953.0,340.0 L966.0,338.5 M906.0,332.0 L900.0,334.0 M946.0,302.4 L947.0,296.0 M952.0,302.4 L952.5,296.5 M958.0,302.4 L958.5,296.5 M949.0,302.4 L952.0,308.0 L957.0,309.0 L961.0,305.0 M968.0,283.0 L972.0,277.0 L990.0,282.0 L1000.0,288.0 L997.0,298.0 L992.0,302.0 M968.0,283.0 L966.0,292.0 L972.0,298.0 L980.0,300.0 M974.0,280.0 L972.0,292.0 L984.0,296.0 L990.0,284.0 M978.0,282.0 L977.0,294.0 M984.0,284.0 L983.0,296.0 M985.0,282.0 L988.0,276.0 L995.0,274.5 L1001.0,277.0 L1002.0,285.0 L1000.0,290.0 M966.0,305.0 L968.0,311.0 L975.0,314.0 L979.0,309.0 L977.0,303.0 M985.0,305.0 L986.0,311.0 L989.0,313.0 M821.0,230.9 L823.3,227.4 M833.0,236.0 L835.3,232.5 M845.0,241.0 L847.3,237.5 M857.0,246.1 L859.3,242.6 M869.0,251.1 L871.2,247.6 M880.9,256.2 L883.2,252.7 M892.9,261.2 L895.2,257.7 M904.9,266.3 L907.2,262.8 M861.3,247.3 L860.5,251.2 M877.1,253.6 L876.3,257.5 M892.9,259.9 L892.1,263.9 M908.7,266.3 L907.8,270.2 M924.4,272.6 L923.6,276.5 M940.2,278.9 L939.4,282.8 M956.0,285.2 L955.2,289.1 M971.8,291.5 L971.0,295.4 M987.6,297.8 L986.8,301.7 M1003.4,304.1 L1002.5,308.1 M1019.1,310.5 L1018.3,314.4 M755.0,207.8 L757.5,204.8 M762.4,212.9 L765.0,209.9 M769.8,218.0 L772.4,215.0 M777.2,223.1 L779.8,220.1 M784.7,228.2 L787.2,225.2 M792.1,233.3 L794.6,230.3 M750.2,213.1 L748.5,216.2 M759.3,219.4 L757.5,222.5 M768.3,225.6 L766.5,228.8 M777.3,231.9 L775.5,235.1 M786.3,238.2 L784.6,241.3 M847.5,265.4 L846.6,269.2 M858.9,269.2 L858.0,272.9 M870.3,272.9 L869.5,276.6 M881.7,276.6 L880.9,280.3 M893.1,280.4 L892.3,284.1 M904.5,284.1 L903.7,287.8 M693.0,196.9 L694.2,200.1 M700.7,194.8 L701.9,198.0 M708.5,192.8 L709.6,196.0 M716.2,190.7 L717.3,193.9 M696.5,203.7 L695.9,200.5 M705.1,201.1 L704.5,198.0 M713.8,198.6 L713.1,195.4 M874.0,266.5 L905.0,277.0 L911.5,281.5 L908.0,285.5 L876.0,275.0 L871.0,270.5 L874.0,266.5 M878.0,270.0 L904.0,279.5 M868.0,238.0 L871.0,232.0 L873.0,239.0 L876.0,233.0 L878.0,240.0 L881.0,234.0 L883.0,241.0 M886.0,222.0 L889.0,236.0 L893.0,248.0 M890.0,221.0 L893.0,235.0 L897.0,247.0 M897.0,226.0 L902.0,232.0 L906.0,228.0 M818.0,236.0 L823.0,233.0 L829.0,236.0 L828.0,242.0 L822.0,244.0 L818.0,241.0 L818.0,236.0 M826.0,244.0 L833.0,242.0 L838.0,246.0 L835.0,252.0 L828.0,251.0 L826.0,244.0 M808.0,240.0 L812.0,236.0 L817.0,239.0 M820.0,247.0 L824.0,251.0 L822.0,256.0 M806.0,262.0 L812.0,258.0 L818.0,262.0 M826.0,262.0 L832.0,258.0 M846.0,288.0 L852.0,300.0 L861.0,305.0 M856.0,286.0 L859.0,292.0 M916.0,325.0 L920.0,336.0 L930.0,343.0 L942.0,345.0 M934.0,322.0 L944.0,322.0 L948.0,328.0 M721.0,326.0 L680.0,327.5 M721.0,329.5 L682.0,331.0 M721.0,326.0 L690.0,300.0 M723.0,324.0 L693.0,298.0 M721.0,326.0 L690.0,357.5 M724.5,328.5 L694.0,360.0 M718.0,324.0 L685.0,355.0 M721.0,326.0 L760.0,318.0 L805.0,311.0 L840.0,305.0 M722.0,330.0 L762.0,322.0 L806.0,315.0 L838.0,310.0 M721.0,326.0 L755.0,344.0 L800.0,360.0 M724.0,322.5 L757.0,340.0 L803.0,356.0 M721.0,245.0 L730.0,261.0 L740.0,283.0 M723.5,244.5 L733.0,261.0 L743.0,283.0 M747.5,262.5 L760.0,291.0 L770.0,309.0 L782.5,330.0 M750.5,262.0 L763.0,290.0 L773.0,308.0 L785.0,328.0 M724.0,292.5 L735.0,311.0 M726.5,291.5 L737.5,310.0 M691.5,301.3 L703.6,296.4 M695.4,304.5 L707.4,299.6 M699.2,307.7 L711.3,302.9 M703.0,310.9 L715.1,306.1 M706.9,314.2 L718.9,309.3 M710.7,317.4 L722.8,312.5 M714.5,320.6 L726.6,315.7 M718.4,323.8 L730.4,318.9 M693.1,302.6 L689.0,313.9 M696.9,305.8 L692.8,317.1 M700.8,309.0 L696.7,320.3 M704.6,312.2 L700.5,323.5 M708.4,315.5 L704.3,326.7 M712.3,318.7 L708.2,329.9 M716.1,321.9 L712.0,333.2 M682.0,327.4 L688.4,337.6 M687.5,327.2 L693.9,337.4 M693.0,327.0 L699.4,337.2 M698.5,326.8 L704.9,337.0 M704.0,326.6 L710.4,336.8 M709.5,326.4 L715.9,336.6 M715.0,326.2 L721.4,336.4 M696.2,351.2 L694.2,340.4 M700.4,346.9 L698.4,336.1 M704.6,342.6 L702.6,331.8 M708.8,338.4 L706.8,327.6 M713.0,334.1 L711.0,323.3 M717.2,329.8 L715.2,319.0 M727.7,324.8 L733.6,312.1 M733.1,323.8 L739.0,311.1 M738.5,322.9 L744.4,310.2 M744.0,321.9 L749.9,309.2 M749.4,320.9 L755.3,308.2 M754.8,320.0 L760.7,307.3 M760.2,319.0 L766.1,306.3 M765.6,318.0 L771.5,305.3 M771.0,317.1 L776.9,304.4 M776.4,316.1 L782.3,303.4 M781.9,315.1 L787.8,302.4 M787.3,314.2 L793.2,301.5 M792.7,313.2 L798.6,300.5 M798.1,312.2 L804.0,299.5 M727.7,324.8 L736.4,334.4 M733.1,323.8 L741.9,333.5 M738.5,322.9 L747.3,332.5 M744.0,321.9 L752.7,331.5 M749.4,320.9 L758.1,330.6 M754.8,320.0 L763.5,329.6 M760.2,319.0 L768.9,328.6 M765.6,318.0 L774.3,327.7 M771.0,317.1 L779.8,326.7 M776.4,316.1 L785.2,325.7 M781.9,315.1 L790.6,324.8 M787.3,314.2 L796.0,323.8 M792.7,313.2 L801.4,322.8 M798.1,312.2 L806.8,321.9 M755.0,344.0 L763.4,336.9 M760.2,345.8 L768.6,338.7 M765.4,347.7 L773.7,340.6 M770.5,349.5 L778.9,342.4 M775.7,351.4 L784.1,344.2 M780.9,353.2 L789.3,346.1 M786.1,355.1 L794.5,347.9 M791.3,356.9 L799.6,349.8 M796.5,358.7 L804.8,351.6 M727.8,329.6 L727.8,341.6 M732.7,332.2 L732.7,344.2 M737.5,334.7 L737.5,346.7 M742.4,337.3 L742.4,349.3 M747.2,339.9 L747.3,351.9 M752.1,342.5 L752.1,354.5 M749.2,265.9 L762.2,264.6 M752.0,271.2 L765.0,270.0 M754.8,276.5 L767.7,275.3 M757.5,281.9 L770.5,280.6 M760.3,287.2 L773.2,286.0 M763.1,292.5 L776.0,291.3 M765.8,297.8 L778.8,296.6 M768.6,303.2 L781.5,301.9 M771.3,308.5 L784.3,307.3 M774.1,313.8 L787.0,312.6 M776.9,319.1 L789.8,317.9 M756.2,279.4 L749.4,289.3 M759.0,284.7 L752.2,294.6 M761.8,290.0 L755.0,299.9 M764.5,295.4 L757.7,305.2 M767.3,300.7 L760.5,310.6 M770.1,306.0 L763.2,315.9 M772.8,311.3 L766.0,321.2 M775.6,316.7 L768.8,326.5 M778.3,322.0 L771.5,331.9 M726.7,256.4 L736.7,256.7 M729.4,261.8 L739.4,262.0 M732.1,267.1 L742.1,267.4 M734.7,272.5 L744.7,272.8 M737.4,277.9 L747.4,278.1 M728.6,260.2 L723.4,267.5 M731.3,265.6 L726.1,272.9 M734.0,270.9 L728.7,278.3 M736.6,276.3 L731.4,283.6 M739.3,281.7 L734.1,289.0 M808.5,310.4 L812.0,301.0 M813.4,309.6 L816.9,300.2 M818.4,308.7 L821.8,299.3 M823.3,307.9 L826.7,298.5 M828.2,307.0 L831.7,297.6 M833.1,306.2 L836.6,296.8 M808.5,310.4 L814.9,318.1 M813.4,309.6 L819.8,317.2 M818.4,308.7 L824.7,316.4 M823.3,307.9 L829.7,315.6 M828.2,307.0 L834.6,314.7 M833.1,306.2 L839.5,313.9 M706.0,297.0 L722.0,306.0 L740.0,316.0 L760.0,328.0 L790.0,343.0 L815.0,353.0 M712.0,300.0 L730.0,312.0 L745.0,325.0 L770.0,337.0 L800.0,350.0 M722.0,311.0 L722.0,322.0 L734.0,330.0 L748.0,336.0 M725.4,307.9 L725.0,314.8 M732.4,311.7 L732.0,318.7 M739.5,315.5 L739.0,322.5 M746.5,319.3 L746.0,326.3 M753.5,323.1 L753.1,330.1 M760.5,327.0 L760.1,334.0 M767.6,330.8 L767.1,337.8 M774.6,334.6 L774.2,341.6 M781.6,338.4 L781.2,345.4 M737.0,315.8 L741.8,312.2 M744.5,319.9 L749.3,316.3 M751.9,323.9 L756.8,320.3 M759.4,328.0 L764.2,324.4 M766.9,332.0 L771.7,328.5 M774.4,336.1 L779.2,332.5 M781.8,340.1 L786.6,336.6 M789.3,344.2 L794.1,340.6 M750.0,363.0 L800.0,378.5 L860.0,395.0 M752.0,366.5 L800.0,381.5 L858.0,398.0 M761.0,366.2 L764.1,361.1 M769.6,368.7 L772.8,363.6 M778.3,371.2 L781.4,366.1 M786.9,373.7 L790.0,368.6 M795.6,376.3 L798.7,371.1 M804.2,378.8 L807.3,373.6 M812.9,381.3 L816.0,376.2 M821.5,383.8 L824.6,378.7 M830.1,386.3 L833.2,381.2 M838.8,388.8 L841.9,383.7 M847.4,391.3 L850.5,386.2 M842.0,385.0 L845.0,379.0 M856.0,397.0 L860.0,393.0 M716.0,355.6 L700.0,362.0 L683.0,369.7 L673.8,380.6 L655.0,402.5 L642.5,418.0 L645.6,429.0 L658.0,440.0 L655.0,452.5 L647.0,465.0 L634.7,481.0 M719.0,358.0 L692.5,374.4 L686.0,387.0 L680.0,402.5 L670.6,415.0 L667.5,427.5 L672.0,440.0 L670.6,452.5 L661.0,468.0 L655.0,481.0 M690.0,357.5 L680.0,372.0 L664.0,391.0 L650.0,409.0 L648.0,422.0 L660.0,436.0 L662.0,450.0 L652.0,468.0 L644.0,481.0 M676.0,385.0 L668.0,392.0 L671.0,400.0 L678.0,398.0 L676.0,385.0 M672.0,360.0 L664.0,356.0 M676.0,364.0 L683.0,358.0 M668.0,366.0 L660.0,363.0 M682.0,391.6 L712.0,388.0 M681.3,395.6 L719.3,391.0 M680.6,399.6 L722.6,394.6 M679.8,403.6 L715.8,399.3 M679.1,407.6 L713.1,403.5 M678.4,411.6 L708.4,408.0 M677.7,415.6 L705.7,412.2 M677.0,419.6 L701.0,416.7 M676.2,423.6 L696.2,421.2 M675.5,427.6 L691.5,425.7 M674.8,431.6 L686.8,430.2 M674.0,436.0 L688.0,434.3 M673.3,440.0 L683.3,438.8 M672.4,445.0 L684.4,443.6 M671.7,449.0 L679.7,448.0 M650.0,398.0 L640.0,400.0 M648.0,404.0 L638.0,406.0 M646.0,410.0 L636.0,412.0 M650.0,416.0 L640.0,418.0 M648.0,446.0 L638.0,448.0 M646.0,452.0 L636.0,454.0 M650.0,458.0 L640.0,460.0 M665.0,430.0 L654.7,464.0 L637.5,495.0 L620.0,519.0 L610.0,533.0 L603.0,547.0 L606.6,564.0 L608.7,585.0 L613.6,630.8 L608.7,647.8 L591.7,652.6 M672.0,434.0 L660.0,466.0 L643.0,497.0 L626.0,521.0 L617.0,535.0 L611.0,548.0 L614.0,566.0 L618.4,589.4 L623.3,638.0 L616.0,652.6 L594.0,657.5 M659.0,430.0 L649.0,462.0 L632.0,493.0 L615.0,516.0 L604.0,531.0 L597.0,545.0 M589.0,541.7 L582.5,533.0 L568.8,526.0 L551.5,516.0 L534.0,507.0 L517.0,498.8 M516.0,504.0 L551.5,521.0 L580.8,540.0 L586.0,557.0 M597.0,545.0 L589.0,541.7 L586.0,557.0 L590.0,566.0 M519.0,497.0 L523.0,493.0 L527.0,495.0 L526.0,501.0 M534.0,507.0 L537.0,498.0 M553.0,517.0 L556.5,508.0 M566.0,524.0 L569.0,514.0 L566.0,513.0 M530.0,505.0 L532.0,528.0 L535.0,541.0 M560.0,521.0 L557.0,529.0 M573.0,532.0 L571.0,538.0 M623.8,522.8 L640.0,530.0 L660.0,538.0 L680.5,545.0 M622.0,527.0 L640.0,534.5 L660.0,542.5 L679.0,549.0 M628.0,528.0 L626.0,546.0 L636.0,548.0 L640.0,534.5 M674.0,542.0 L678.0,530.0 M678.0,543.5 L682.5,531.0 M664.0,539.0 L667.0,532.0 M635.8,497.0 L680.0,493.5 L727.0,489.5 M640.0,500.5 L672.0,498.5 M700.0,492.0 L701.0,496.0 M640.0,470.0 L630.0,466.0 M636.0,477.0 L626.0,473.0 M632.0,484.0 L622.0,480.0 M628.0,491.0 L618.0,487.0 M620.0,502.0 L610.0,498.0 M616.0,509.0 L606.0,505.0 M612.0,484.0 L626.0,490.0 M606.0,492.0 L620.0,498.0 M612.0,502.0 L626.0,508.0 M597.0,510.0 L607.0,515.0 M606.0,441.0 L640.0,458.0 L650.0,466.0 M610.0,446.0 L636.0,460.0 M645.0,547.0 L655.0,551.0 L664.0,560.0 L670.0,570.0 L676.0,577.0 L688.0,583.0 L697.0,592.0 M650.0,556.0 L658.0,563.0 L662.0,572.0 M664.0,560.0 L672.0,556.0 L680.0,562.0 L683.0,571.0 M670.0,570.0 L678.0,566.0 M591.7,652.6 L591.7,630.8 L579.5,622.0 L560.0,623.5 L545.5,627.0 L526.0,629.5 L516.4,626.0 M594.0,657.5 L594.0,664.8 M584.4,635.6 L584.4,664.8 L594.0,664.8 M584.4,645.0 L594.0,645.0 M584.4,655.0 L594.0,655.0 M588.0,628.0 L578.0,626.5 L562.0,628.0 L547.0,631.5 L528.0,634.0 L520.0,632.0 M497.0,615.0 L516.4,626.0 M499.0,612.5 L505.0,613.0 L512.0,619.0 M497.0,637.0 L505.0,636.0 L512.0,630.0 M522.0,655.0 L523.0,646.0 L528.0,642.0 L531.0,648.0 L531.0,653.0 M545.5,627.0 L547.0,620.0 M556.0,624.0 L557.0,618.0 M575.0,622.0 L576.0,617.0 M551.0,631.0 L553.0,643.0 M560.0,629.0 L561.0,646.0 M570.0,627.0 L571.0,634.0 M613.0,598.0 L618.0,596.0 M618.4,612.0 L626.0,613.0 M623.0,628.0 L629.0,627.0 M613.6,640.0 L608.0,641.0 M611.0,592.0 L606.0,593.0 M620.0,620.0 L627.0,619.0 M427.0,755.5 L538.0,587.0 M431.4,741.6 L438.0,746.0 M435.3,734.7 L442.9,739.6 M456.9,701.0 L465.3,706.5 M482.2,662.6 L490.6,668.1 M503.6,631.1 L511.1,636.1 M512.1,620.0 L517.9,623.8" fill="none" stroke="#000" stroke-width="1.7" stroke-linecap="butt" stroke-linejoin="round"/>
</mask>
</defs>
<g mask="url(#mcut)" filter="url(#soft)"><path d="M1111.9,110.2 L856.4,239.2 L845.0,257.5 L838.0,262.0 M1114.1,114.4 L858.6,243.4 L841.0,253.0 L834.0,257.0 M1096.0,127.4 L1090.7,117.0 M1079.2,134.1 L1075.4,126.6 M1065.6,142.7 L1060.4,132.4 M1048.8,149.4 L1045.0,141.9 M1033.5,158.9 L1028.3,148.6 M1016.7,165.6 L1012.9,158.1 M1001.4,175.2 L996.1,164.8 M984.6,181.9 L980.8,174.4 M969.2,191.4 L964.0,181.0 M952.4,198.1 L948.6,190.6 M937.1,207.6 L931.9,197.3 M920.3,214.3 L916.5,206.8 M904.9,223.8 L899.7,213.5 M888.2,230.5 L884.4,223.0 M874.6,239.2 L869.4,228.8 M686.0,198.8 L721.0,189.4 L726.0,189.4 L750.0,204.4 L780.0,225.0 L800.0,238.8 L821.0,250.0 L840.0,258.8 L864.0,261.0 L909.0,277.5 L950.0,297.5 M690.0,205.6 L702.5,202.0 L722.5,196.0 L730.0,198.8 L745.0,209.4 L775.0,230.0 L797.5,246.0 L805.0,251.0 L840.0,263.0 L870.0,275.0 L915.0,287.5 L941.0,294.0 L943.0,302.4 L994.5,302.4 M702.5,203.0 L701.0,212.5 M752.0,203.8 L744.0,215.6 M722.0,189.0 L720.5,184.5 M687.0,197.0 L684.0,200.0 M787.5,209.4 L816.0,228.8 L840.0,238.8 L917.0,271.4 L1053.0,324.0 M787.5,209.4 L781.0,226.0 M814.0,230.0 L810.0,242.0 M1046.0,321.5 L1047.0,315.0 L1053.0,312.5 L1057.0,314.0 M1030.0,315.0 L1031.5,310.0 M762.5,213.0 L764.0,208.5 M767.0,216.0 L768.5,211.0 M771.5,219.0 L773.0,214.0 M753.8,226.0 L770.0,245.0 M772.0,228.8 L765.0,246.0 M748.8,231.0 L772.5,228.0 M750.0,238.8 L767.5,235.0 M756.0,242.5 L770.0,245.0 M749.0,225.5 L752.0,229.0 M759.0,225.0 L757.0,229.0 M834.0,226.0 L840.0,229.0 L843.0,224.0 L846.0,230.0 L850.0,228.0 M840.0,229.0 L839.0,236.0 M836.0,259.5 L822.0,268.5 L812.0,276.0 M813.5,271.0 L822.0,267.5 L848.0,277.5 L852.0,282.0 L848.0,286.0 L842.0,286.0 L818.0,279.5 L812.0,276.0 L813.5,271.0 M818.0,273.0 L845.0,282.5 M816.0,276.0 L842.0,284.0 M806.0,270.0 L812.0,276.0 L810.0,283.0 M804.0,274.0 L809.0,272.0 M805.0,251.0 L798.0,253.5 L797.5,258.0 L802.5,262.5 L817.5,267.5 M840.0,263.0 L868.0,268.0 L900.0,280.0 M872.0,268.0 L878.0,265.0 L884.0,262.0 L905.0,270.0 L913.0,275.0 L915.0,287.5 M873.0,268.0 L900.0,278.5 L906.0,277.0 L910.0,270.0 M910.0,256.0 L917.0,260.0 L917.5,287.5 L910.0,290.0 M913.0,256.0 L912.0,262.0 M845.0,293.8 L902.5,293.8 L910.0,287.5 M863.8,300.0 L902.5,298.8 L908.0,294.0 M877.5,287.5 L881.0,300.0 L882.0,307.5 L896.0,307.5 L896.0,300.0 M849.0,289.0 L853.0,294.0 M866.0,288.0 L868.0,293.8 M887.0,288.0 L889.0,293.8 M866.0,310.0 L896.0,320.0 M870.0,306.0 L898.0,315.0 M915.0,283.4 L932.0,289.0 L941.0,294.0 M943.0,302.4 L940.0,310.0 L930.0,314.0 L916.0,320.0 L911.0,330.0 L914.0,342.0 L922.0,349.0 L940.0,352.0 L950.0,348.0 L953.0,340.0 L948.0,334.0 L936.0,333.0 L926.0,330.0 L922.0,322.0 L928.0,317.0 L938.0,318.0 L940.0,325.0 L934.0,328.0 M922.0,349.0 L921.0,354.0 L930.0,356.0 L946.0,354.0 L952.0,350.0 M953.0,340.0 L966.0,338.5 M906.0,332.0 L900.0,334.0 M946.0,302.4 L947.0,296.0 M952.0,302.4 L952.5,296.5 M958.0,302.4 L958.5,296.5 M949.0,302.4 L952.0,308.0 L957.0,309.0 L961.0,305.0 M968.0,283.0 L972.0,277.0 L990.0,282.0 L1000.0,288.0 L997.0,298.0 L992.0,302.0 M968.0,283.0 L966.0,292.0 L972.0,298.0 L980.0,300.0 M974.0,280.0 L972.0,292.0 L984.0,296.0 L990.0,284.0 M978.0,282.0 L977.0,294.0 M984.0,284.0 L983.0,296.0 M985.0,282.0 L988.0,276.0 L995.0,274.5 L1001.0,277.0 L1002.0,285.0 L1000.0,290.0 M966.0,305.0 L968.0,311.0 L975.0,314.0 L979.0,309.0 L977.0,303.0 M985.0,305.0 L986.0,311.0 L989.0,313.0 M821.0,230.9 L823.3,227.4 M833.0,236.0 L835.3,232.5 M845.0,241.0 L847.3,237.5 M857.0,246.1 L859.3,242.6 M869.0,251.1 L871.2,247.6 M880.9,256.2 L883.2,252.7 M892.9,261.2 L895.2,257.7 M904.9,266.3 L907.2,262.8 M861.3,247.3 L860.5,251.2 M877.1,253.6 L876.3,257.5 M892.9,259.9 L892.1,263.9 M908.7,266.3 L907.8,270.2 M924.4,272.6 L923.6,276.5 M940.2,278.9 L939.4,282.8 M956.0,285.2 L955.2,289.1 M971.8,291.5 L971.0,295.4 M987.6,297.8 L986.8,301.7 M1003.4,304.1 L1002.5,308.1 M1019.1,310.5 L1018.3,314.4 M755.0,207.8 L757.5,204.8 M762.4,212.9 L765.0,209.9 M769.8,218.0 L772.4,215.0 M777.2,223.1 L779.8,220.1 M784.7,228.2 L787.2,225.2 M792.1,233.3 L794.6,230.3 M750.2,213.1 L748.5,216.2 M759.3,219.4 L757.5,222.5 M768.3,225.6 L766.5,228.8 M777.3,231.9 L775.5,235.1 M786.3,238.2 L784.6,241.3 M847.5,265.4 L846.6,269.2 M858.9,269.2 L858.0,272.9 M870.3,272.9 L869.5,276.6 M881.7,276.6 L880.9,280.3 M893.1,280.4 L892.3,284.1 M904.5,284.1 L903.7,287.8 M693.0,196.9 L694.2,200.1 M700.7,194.8 L701.9,198.0 M708.5,192.8 L709.6,196.0 M716.2,190.7 L717.3,193.9 M696.5,203.7 L695.9,200.5 M705.1,201.1 L704.5,198.0 M713.8,198.6 L713.1,195.4 M874.0,266.5 L905.0,277.0 L911.5,281.5 L908.0,285.5 L876.0,275.0 L871.0,270.5 L874.0,266.5 M878.0,270.0 L904.0,279.5 M868.0,238.0 L871.0,232.0 L873.0,239.0 L876.0,233.0 L878.0,240.0 L881.0,234.0 L883.0,241.0 M886.0,222.0 L889.0,236.0 L893.0,248.0 M890.0,221.0 L893.0,235.0 L897.0,247.0 M897.0,226.0 L902.0,232.0 L906.0,228.0 M818.0,236.0 L823.0,233.0 L829.0,236.0 L828.0,242.0 L822.0,244.0 L818.0,241.0 L818.0,236.0 M826.0,244.0 L833.0,242.0 L838.0,246.0 L835.0,252.0 L828.0,251.0 L826.0,244.0 M808.0,240.0 L812.0,236.0 L817.0,239.0 M820.0,247.0 L824.0,251.0 L822.0,256.0 M806.0,262.0 L812.0,258.0 L818.0,262.0 M826.0,262.0 L832.0,258.0 M846.0,288.0 L852.0,300.0 L861.0,305.0 M856.0,286.0 L859.0,292.0 M916.0,325.0 L920.0,336.0 L930.0,343.0 L942.0,345.0 M934.0,322.0 L944.0,322.0 L948.0,328.0 M721.0,326.0 L680.0,327.5 M721.0,329.5 L682.0,331.0 M721.0,326.0 L690.0,300.0 M723.0,324.0 L693.0,298.0 M721.0,326.0 L690.0,357.5 M724.5,328.5 L694.0,360.0 M718.0,324.0 L685.0,355.0 M721.0,326.0 L760.0,318.0 L805.0,311.0 L840.0,305.0 M722.0,330.0 L762.0,322.0 L806.0,315.0 L838.0,310.0 M721.0,326.0 L755.0,344.0 L800.0,360.0 M724.0,322.5 L757.0,340.0 L803.0,356.0 M721.0,245.0 L730.0,261.0 L740.0,283.0 M723.5,244.5 L733.0,261.0 L743.0,283.0 M747.5,262.5 L760.0,291.0 L770.0,309.0 L782.5,330.0 M750.5,262.0 L763.0,290.0 L773.0,308.0 L785.0,328.0 M724.0,292.5 L735.0,311.0 M726.5,291.5 L737.5,310.0 M691.5,301.3 L703.6,296.4 M695.4,304.5 L707.4,299.6 M699.2,307.7 L711.3,302.9 M703.0,310.9 L715.1,306.1 M706.9,314.2 L718.9,309.3 M710.7,317.4 L722.8,312.5 M714.5,320.6 L726.6,315.7 M718.4,323.8 L730.4,318.9 M693.1,302.6 L689.0,313.9 M696.9,305.8 L692.8,317.1 M700.8,309.0 L696.7,320.3 M704.6,312.2 L700.5,323.5 M708.4,315.5 L704.3,326.7 M712.3,318.7 L708.2,329.9 M716.1,321.9 L712.0,333.2 M682.0,327.4 L688.4,337.6 M687.5,327.2 L693.9,337.4 M693.0,327.0 L699.4,337.2 M698.5,326.8 L704.9,337.0 M704.0,326.6 L710.4,336.8 M709.5,326.4 L715.9,336.6 M715.0,326.2 L721.4,336.4 M696.2,351.2 L694.2,340.4 M700.4,346.9 L698.4,336.1 M704.6,342.6 L702.6,331.8 M708.8,338.4 L706.8,327.6 M713.0,334.1 L711.0,323.3 M717.2,329.8 L715.2,319.0 M727.7,324.8 L733.6,312.1 M733.1,323.8 L739.0,311.1 M738.5,322.9 L744.4,310.2 M744.0,321.9 L749.9,309.2 M749.4,320.9 L755.3,308.2 M754.8,320.0 L760.7,307.3 M760.2,319.0 L766.1,306.3 M765.6,318.0 L771.5,305.3 M771.0,317.1 L776.9,304.4 M776.4,316.1 L782.3,303.4 M781.9,315.1 L787.8,302.4 M787.3,314.2 L793.2,301.5 M792.7,313.2 L798.6,300.5 M798.1,312.2 L804.0,299.5 M727.7,324.8 L736.4,334.4 M733.1,323.8 L741.9,333.5 M738.5,322.9 L747.3,332.5 M744.0,321.9 L752.7,331.5 M749.4,320.9 L758.1,330.6 M754.8,320.0 L763.5,329.6 M760.2,319.0 L768.9,328.6 M765.6,318.0 L774.3,327.7 M771.0,317.1 L779.8,326.7 M776.4,316.1 L785.2,325.7 M781.9,315.1 L790.6,324.8 M787.3,314.2 L796.0,323.8 M792.7,313.2 L801.4,322.8 M798.1,312.2 L806.8,321.9 M755.0,344.0 L763.4,336.9 M760.2,345.8 L768.6,338.7 M765.4,347.7 L773.7,340.6 M770.5,349.5 L778.9,342.4 M775.7,351.4 L784.1,344.2 M780.9,353.2 L789.3,346.1 M786.1,355.1 L794.5,347.9 M791.3,356.9 L799.6,349.8 M796.5,358.7 L804.8,351.6 M727.8,329.6 L727.8,341.6 M732.7,332.2 L732.7,344.2 M737.5,334.7 L737.5,346.7 M742.4,337.3 L742.4,349.3 M747.2,339.9 L747.3,351.9 M752.1,342.5 L752.1,354.5 M749.2,265.9 L762.2,264.6 M752.0,271.2 L765.0,270.0 M754.8,276.5 L767.7,275.3 M757.5,281.9 L770.5,280.6 M760.3,287.2 L773.2,286.0 M763.1,292.5 L776.0,291.3 M765.8,297.8 L778.8,296.6 M768.6,303.2 L781.5,301.9 M771.3,308.5 L784.3,307.3 M774.1,313.8 L787.0,312.6 M776.9,319.1 L789.8,317.9 M756.2,279.4 L749.4,289.3 M759.0,284.7 L752.2,294.6 M761.8,290.0 L755.0,299.9 M764.5,295.4 L757.7,305.2 M767.3,300.7 L760.5,310.6 M770.1,306.0 L763.2,315.9 M772.8,311.3 L766.0,321.2 M775.6,316.7 L768.8,326.5 M778.3,322.0 L771.5,331.9 M726.7,256.4 L736.7,256.7 M729.4,261.8 L739.4,262.0 M732.1,267.1 L742.1,267.4 M734.7,272.5 L744.7,272.8 M737.4,277.9 L747.4,278.1 M728.6,260.2 L723.4,267.5 M731.3,265.6 L726.1,272.9 M734.0,270.9 L728.7,278.3 M736.6,276.3 L731.4,283.6 M739.3,281.7 L734.1,289.0 M808.5,310.4 L812.0,301.0 M813.4,309.6 L816.9,300.2 M818.4,308.7 L821.8,299.3 M823.3,307.9 L826.7,298.5 M828.2,307.0 L831.7,297.6 M833.1,306.2 L836.6,296.8 M808.5,310.4 L814.9,318.1 M813.4,309.6 L819.8,317.2 M818.4,308.7 L824.7,316.4 M823.3,307.9 L829.7,315.6 M828.2,307.0 L834.6,314.7 M833.1,306.2 L839.5,313.9 M706.0,297.0 L722.0,306.0 L740.0,316.0 L760.0,328.0 L790.0,343.0 L815.0,353.0 M712.0,300.0 L730.0,312.0 L745.0,325.0 L770.0,337.0 L800.0,350.0 M722.0,311.0 L722.0,322.0 L734.0,330.0 L748.0,336.0 M725.4,307.9 L725.0,314.8 M732.4,311.7 L732.0,318.7 M739.5,315.5 L739.0,322.5 M746.5,319.3 L746.0,326.3 M753.5,323.1 L753.1,330.1 M760.5,327.0 L760.1,334.0 M767.6,330.8 L767.1,337.8 M774.6,334.6 L774.2,341.6 M781.6,338.4 L781.2,345.4 M737.0,315.8 L741.8,312.2 M744.5,319.9 L749.3,316.3 M751.9,323.9 L756.8,320.3 M759.4,328.0 L764.2,324.4 M766.9,332.0 L771.7,328.5 M774.4,336.1 L779.2,332.5 M781.8,340.1 L786.6,336.6 M789.3,344.2 L794.1,340.6 M750.0,363.0 L800.0,378.5 L860.0,395.0 M752.0,366.5 L800.0,381.5 L858.0,398.0 M761.0,366.2 L764.1,361.1 M769.6,368.7 L772.8,363.6 M778.3,371.2 L781.4,366.1 M786.9,373.7 L790.0,368.6 M795.6,376.3 L798.7,371.1 M804.2,378.8 L807.3,373.6 M812.9,381.3 L816.0,376.2 M821.5,383.8 L824.6,378.7 M830.1,386.3 L833.2,381.2 M838.8,388.8 L841.9,383.7 M847.4,391.3 L850.5,386.2 M842.0,385.0 L845.0,379.0 M856.0,397.0 L860.0,393.0 M716.0,355.6 L700.0,362.0 L683.0,369.7 L673.8,380.6 L655.0,402.5 L642.5,418.0 L645.6,429.0 L658.0,440.0 L655.0,452.5 L647.0,465.0 L634.7,481.0 M719.0,358.0 L692.5,374.4 L686.0,387.0 L680.0,402.5 L670.6,415.0 L667.5,427.5 L672.0,440.0 L670.6,452.5 L661.0,468.0 L655.0,481.0 M690.0,357.5 L680.0,372.0 L664.0,391.0 L650.0,409.0 L648.0,422.0 L660.0,436.0 L662.0,450.0 L652.0,468.0 L644.0,481.0 M676.0,385.0 L668.0,392.0 L671.0,400.0 L678.0,398.0 L676.0,385.0 M672.0,360.0 L664.0,356.0 M676.0,364.0 L683.0,358.0 M668.0,366.0 L660.0,363.0 M682.0,391.6 L712.0,388.0 M681.3,395.6 L719.3,391.0 M680.6,399.6 L722.6,394.6 M679.8,403.6 L715.8,399.3 M679.1,407.6 L713.1,403.5 M678.4,411.6 L708.4,408.0 M677.7,415.6 L705.7,412.2 M677.0,419.6 L701.0,416.7 M676.2,423.6 L696.2,421.2 M675.5,427.6 L691.5,425.7 M674.8,431.6 L686.8,430.2 M674.0,436.0 L688.0,434.3 M673.3,440.0 L683.3,438.8 M672.4,445.0 L684.4,443.6 M671.7,449.0 L679.7,448.0 M650.0,398.0 L640.0,400.0 M648.0,404.0 L638.0,406.0 M646.0,410.0 L636.0,412.0 M650.0,416.0 L640.0,418.0 M648.0,446.0 L638.0,448.0 M646.0,452.0 L636.0,454.0 M650.0,458.0 L640.0,460.0 M665.0,430.0 L654.7,464.0 L637.5,495.0 L620.0,519.0 L610.0,533.0 L603.0,547.0 L606.6,564.0 L608.7,585.0 L613.6,630.8 L608.7,647.8 L591.7,652.6 M672.0,434.0 L660.0,466.0 L643.0,497.0 L626.0,521.0 L617.0,535.0 L611.0,548.0 L614.0,566.0 L618.4,589.4 L623.3,638.0 L616.0,652.6 L594.0,657.5 M659.0,430.0 L649.0,462.0 L632.0,493.0 L615.0,516.0 L604.0,531.0 L597.0,545.0 M589.0,541.7 L582.5,533.0 L568.8,526.0 L551.5,516.0 L534.0,507.0 L517.0,498.8 M516.0,504.0 L551.5,521.0 L580.8,540.0 L586.0,557.0 M597.0,545.0 L589.0,541.7 L586.0,557.0 L590.0,566.0 M519.0,497.0 L523.0,493.0 L527.0,495.0 L526.0,501.0 M534.0,507.0 L537.0,498.0 M553.0,517.0 L556.5,508.0 M566.0,524.0 L569.0,514.0 L566.0,513.0 M530.0,505.0 L532.0,528.0 L535.0,541.0 M560.0,521.0 L557.0,529.0 M573.0,532.0 L571.0,538.0 M623.8,522.8 L640.0,530.0 L660.0,538.0 L680.5,545.0 M622.0,527.0 L640.0,534.5 L660.0,542.5 L679.0,549.0 M628.0,528.0 L626.0,546.0 L636.0,548.0 L640.0,534.5 M674.0,542.0 L678.0,530.0 M678.0,543.5 L682.5,531.0 M664.0,539.0 L667.0,532.0 M635.8,497.0 L680.0,493.5 L727.0,489.5 M640.0,500.5 L672.0,498.5 M700.0,492.0 L701.0,496.0 M640.0,470.0 L630.0,466.0 M636.0,477.0 L626.0,473.0 M632.0,484.0 L622.0,480.0 M628.0,491.0 L618.0,487.0 M620.0,502.0 L610.0,498.0 M616.0,509.0 L606.0,505.0 M612.0,484.0 L626.0,490.0 M606.0,492.0 L620.0,498.0 M612.0,502.0 L626.0,508.0 M597.0,510.0 L607.0,515.0 M606.0,441.0 L640.0,458.0 L650.0,466.0 M610.0,446.0 L636.0,460.0 M645.0,547.0 L655.0,551.0 L664.0,560.0 L670.0,570.0 L676.0,577.0 L688.0,583.0 L697.0,592.0 M650.0,556.0 L658.0,563.0 L662.0,572.0 M664.0,560.0 L672.0,556.0 L680.0,562.0 L683.0,571.0 M670.0,570.0 L678.0,566.0 M591.7,652.6 L591.7,630.8 L579.5,622.0 L560.0,623.5 L545.5,627.0 L526.0,629.5 L516.4,626.0 M594.0,657.5 L594.0,664.8 M584.4,635.6 L584.4,664.8 L594.0,664.8 M584.4,645.0 L594.0,645.0 M584.4,655.0 L594.0,655.0 M588.0,628.0 L578.0,626.5 L562.0,628.0 L547.0,631.5 L528.0,634.0 L520.0,632.0 M497.0,615.0 L516.4,626.0 M499.0,612.5 L505.0,613.0 L512.0,619.0 M497.0,637.0 L505.0,636.0 L512.0,630.0 M522.0,655.0 L523.0,646.0 L528.0,642.0 L531.0,648.0 L531.0,653.0 M545.5,627.0 L547.0,620.0 M556.0,624.0 L557.0,618.0 M575.0,622.0 L576.0,617.0 M551.0,631.0 L553.0,643.0 M560.0,629.0 L561.0,646.0 M570.0,627.0 L571.0,634.0 M613.0,598.0 L618.0,596.0 M618.4,612.0 L626.0,613.0 M623.0,628.0 L629.0,627.0 M613.6,640.0 L608.0,641.0 M611.0,592.0 L606.0,593.0 M620.0,620.0 L627.0,619.0 M427.0,755.5 L538.0,587.0 M431.4,741.6 L438.0,746.0 M435.3,734.7 L442.9,739.6 M456.9,701.0 L465.3,706.5 M482.2,662.6 L490.6,668.1 M503.6,631.1 L511.1,636.1 M512.1,620.0 L517.9,623.8" fill="none" stroke="#303030" stroke-width="2.65" stroke-linecap="round" stroke-linejoin="round" opacity="0.85"/></g>

<polygon points="1113.2,104 1117,99.6 1140,94 1143.6,97 1143.8,102.6 1132.5,112.6 1119.2,118.8 1115.6,116 1113.2,108.5" fill="#1a6ee0" stroke="#1a6ee0" stroke-width="5.4" stroke-linejoin="round"/><polygon points="1117.4,103 1138.4,96.6 1140.6,102 1130.6,110 1119.6,115.4 1116.6,110" fill="#050505" stroke="#050505" stroke-width="3" stroke-linejoin="round"/><polygon points="414.5,759.5 422.8,759.2 426.2,764.8 424.3,770.3 409.2,783.4 403.8,781 406.8,770" fill="#1a6ee0" stroke="#1a6ee0" stroke-width="5.2" stroke-linejoin="round"/><polygon points="416.6,762.6 421.6,762.6 423.4,766.6 410.6,779.4 406.6,778.6 410.6,767.4" fill="#050505" stroke="#050505" stroke-width="2.6" stroke-linejoin="round"/>
<text x="533.5" y="229" text-anchor="middle" font-size="19" font-weight="700" textLength="42.5" lengthAdjust="spacingAndGlyphs" stroke="#fff" stroke-width="4.2" stroke-linejoin="round" fill="#fff">+3%</text><text x="533.5" y="229" text-anchor="middle" font-size="19" font-weight="700" textLength="42.5" lengthAdjust="spacingAndGlyphs" stroke="#000" stroke-width="1.25" stroke-linejoin="round" fill="#000">+3%</text><text x="533.7" y="255.5" text-anchor="middle" font-size="19" font-weight="700" textLength="73" lengthAdjust="spacingAndGlyphs" stroke="#fff" stroke-width="4.2" stroke-linejoin="round" fill="#fff">Copper</text><text x="533.7" y="255.5" text-anchor="middle" font-size="19" font-weight="700" textLength="73" lengthAdjust="spacingAndGlyphs" stroke="#000" stroke-width="1.25" stroke-linejoin="round" fill="#000">Copper</text><text x="388.2" y="374" text-anchor="middle" font-size="19" font-weight="700" textLength="42" lengthAdjust="spacingAndGlyphs" stroke="#fff" stroke-width="4.2" stroke-linejoin="round" fill="#fff">+5%</text><text x="388.2" y="374" text-anchor="middle" font-size="19" font-weight="700" textLength="42" lengthAdjust="spacingAndGlyphs" stroke="#000" stroke-width="1.25" stroke-linejoin="round" fill="#000">+5%</text><text x="388.4" y="402" text-anchor="middle" font-size="19" font-weight="700" textLength="73.5" lengthAdjust="spacingAndGlyphs" stroke="#fff" stroke-width="4.2" stroke-linejoin="round" fill="#fff">Copper</text><text x="388.4" y="402" text-anchor="middle" font-size="19" font-weight="700" textLength="73.5" lengthAdjust="spacingAndGlyphs" stroke="#000" stroke-width="1.25" stroke-linejoin="round" fill="#000">Copper</text><text x="970" y="552" text-anchor="middle" font-size="19" font-weight="700" textLength="43.5" lengthAdjust="spacingAndGlyphs" stroke="#fff" stroke-width="4.2" stroke-linejoin="round" fill="#fff">+8%</text><text x="970" y="552" text-anchor="middle" font-size="19" font-weight="700" textLength="43.5" lengthAdjust="spacingAndGlyphs" stroke="#000" stroke-width="1.25" stroke-linejoin="round" fill="#000">+8%</text><text x="970.2" y="579.5" text-anchor="middle" font-size="19" font-weight="700" textLength="74" lengthAdjust="spacingAndGlyphs" stroke="#fff" stroke-width="4.2" stroke-linejoin="round" fill="#fff">Copper</text><text x="970.2" y="579.5" text-anchor="middle" font-size="19" font-weight="700" textLength="74" lengthAdjust="spacingAndGlyphs" stroke="#000" stroke-width="1.25" stroke-linejoin="round" fill="#000">Copper</text>
<text transform="translate(297.5 72.7) scale(1.165 1)" text-anchor="start" font-size="22.3" font-weight="700" word-spacing="3.2" stroke="#000" stroke-width="0.85" stroke-linejoin="round" fill="#000">Progressive Mine Development As At 1st June 2021</text><rect x="297" y="74.8" width="665" height="1.6" fill="#000"/>
<rect x="991.75" y="207.5" width="236.25" height="38" fill="#fff" stroke="#111" stroke-width="1.5"/><text transform="translate(997.5 233.8) scale(1.145 1)" text-anchor="start" font-size="19.2" font-weight="700" word-spacing="1.1" stroke="#000" stroke-width="0.9" stroke-linejoin="round" fill="#000">Kakula North Decline</text><rect x="458" y="737.2" width="239" height="38.3" fill="#fff" stroke="#111" stroke-width="1.5"/><text transform="translate(464.6 764) scale(1.138 1)" text-anchor="start" font-size="19.2" font-weight="700" word-spacing="1.1" stroke="#000" stroke-width="0.9" stroke-linejoin="round" fill="#000">Kakula South Decline</text>
<polygon points="447.5,448 672.5,407.5 447.5,471" fill="#fff" stroke="#111" stroke-width="1.6" stroke-linejoin="miter"/><rect x="54.25" y="437" width="393.25" height="93" fill="#fff" stroke="#111" stroke-width="1.6"/><rect x="446" y="449.3" width="3" height="20.2" fill="#fff"/><text transform="translate(248 464) scale(1.185 1)" text-anchor="middle" font-size="18.2" font-weight="700" font-style="italic" word-spacing="1.7" stroke="#000" stroke-width="0.8" stroke-linejoin="round" fill="#000">Northern and Southern access</text><text transform="translate(251 491) scale(1.185 1)" text-anchor="middle" font-size="18.2" font-weight="700" font-style="italic" word-spacing="1.7" stroke="#000" stroke-width="0.8" stroke-linejoin="round" fill="#000">drives connected</text><text transform="translate(251 518) scale(1.185 1)" text-anchor="middle" font-size="18.2" font-weight="700" font-style="italic" word-spacing="1.7" stroke="#000" stroke-width="0.8" stroke-linejoin="round" fill="#000">(Continuation of Drive Development)</text>
<rect x="29.5" y="685.5" width="292.25" height="179" fill="#fff" stroke="#333" stroke-width="1.4"/><text x="32.5" y="707" font-size="21" font-weight="700" fill="#111">Legend</text><line x1="32" y1="735" x2="74.5" y2="735" stroke="#74839c" stroke-width="1.1"/><text x="82.5" y="740.5" font-size="14.95" fill="#222">Existing Underground Development</text><text x="82.5" y="770" font-size="14.95" fill="#222">Surface Access to Decline</text><text x="82.5" y="799" font-size="14.95" fill="#222">+8% Copper Contour</text><text x="82.5" y="828" font-size="14.95" fill="#222">+5% Copper Contour</text><text x="82.5" y="857" font-size="14.95" fill="#222">+3% Copper Contour</text><rect x="32.5" y="753.7" width="41.7" height="20.8" rx="1.5" fill="#050505" stroke="#1f6ad8" stroke-width="2.6"/><rect x="32" y="782.5" width="42.5" height="21.7" fill="#e00fa4" stroke="#a0a0a0" stroke-width="0.5"/><rect x="32" y="811.75" width="42.5" height="21.3" fill="#ff5a14" stroke="#a0a0a0" stroke-width="0.5"/><rect x="32" y="841.25" width="42.5" height="21.3" fill="#ffff0a" stroke="#a0a0a0" stroke-width="0.6"/>
<rect x="467" y="843.4" width="509" height="11.5" fill="#fff" stroke="#000" stroke-width="1.2"/><rect x="467" y="849.1" width="32.5" height="5.7999999999999545" fill="#000"/><rect x="499.5" y="843.4" width="32.25" height="5.7000000000000455" fill="#000"/><rect x="531.75" y="849.1" width="31.5" height="5.7999999999999545" fill="#000"/><rect x="563.25" y="843.4" width="31.25" height="5.7000000000000455" fill="#000"/><rect x="594.5" y="849.1" width="127.25" height="5.7999999999999545" fill="#000"/><rect x="721.75" y="843.4" width="127.25" height="5.7000000000000455" fill="#000"/><rect x="849" y="849.1" width="127" height="5.7999999999999545" fill="#000"/><text x="467" y="838" font-size="10.7" text-anchor="middle" fill="#333">0</text><text x="531" y="838" font-size="10.7" text-anchor="middle" fill="#333">0.25</text><text x="594.5" y="838" font-size="10.7" text-anchor="middle" fill="#333">0.5</text><text x="721.75" y="838" font-size="10.7" text-anchor="middle" fill="#333">1</text><text x="849" y="838" font-size="10.7" text-anchor="middle" fill="#333">1.5</text><text x="976" y="838" font-size="10.7" text-anchor="middle" fill="#333">2</text><text x="721.75" y="863.2" font-size="10.6" text-anchor="middle" fill="#333">Kilometres</text>
<text x="720.8" y="737" font-size="12.6" text-anchor="middle" fill="#222">N</text><polygon points="720.4,743 717.4,765.5 720.6,765.5" fill="#fff" stroke="#222" stroke-width="0.5"/><polygon points="720.4,743 720.6,765.5 723.8,765.5" fill="#111"/><path d="M718.2,771.5 L722.5,769.5 L721,773.5 L724,772.5 L719.5,776 L720.6,772 Z" fill="#111"/><polygon points="721.2,776 717,808.6 721,808.6" fill="#111"/><polygon points="721.2,776 721,808.6 725,808.6" fill="#fff" stroke="#222" stroke-width="0.5"/>
<rect x="3.5" y="5" width="1272" height="897.5" fill="none" stroke="#c8585f" stroke-width="1.3"/><rect x="20.5" y="26.5" width="1232" height="846" fill="none" stroke="#2a2a2a" stroke-width="1.7"/><line x1="371" y1="21" x2="371" y2="26.5" stroke="#222" stroke-width="1.4"/><line x1="371" y1="872.5" x2="371" y2="877.5" stroke="#222" stroke-width="1.4"/><text x="371" y="19" font-size="5.2" font-weight="700" text-anchor="middle" fill="#333">300000</text><text x="371" y="884.5" font-size="5.2" font-weight="700" text-anchor="middle" fill="#333">300000</text><line x1="878.7" y1="21" x2="878.7" y2="26.5" stroke="#222" stroke-width="1.4"/><line x1="878.7" y1="872.5" x2="878.7" y2="877.5" stroke="#222" stroke-width="1.4"/><text x="878.7" y="19" font-size="5.2" font-weight="700" text-anchor="middle" fill="#333">302000</text><text x="878.7" y="884.5" font-size="5.2" font-weight="700" text-anchor="middle" fill="#333">302000</text><line x1="15" y1="129.7" x2="20.5" y2="129.7" stroke="#222" stroke-width="1.4"/><line x1="1252.5" y1="129.7" x2="1258" y2="129.7" stroke="#222" stroke-width="1.4"/><text transform="translate(12.5 129.7) rotate(-90)" font-size="5.2" font-weight="700" text-anchor="middle" fill="#333">8796000</text><text transform="translate(1264 129.7) rotate(-90)" font-size="5.2" font-weight="700" text-anchor="middle" fill="#333">8796000</text><line x1="15" y1="637" x2="20.5" y2="637" stroke="#222" stroke-width="1.4"/><line x1="1252.5" y1="637" x2="1258" y2="637" stroke="#222" stroke-width="1.4"/><text transform="translate(12.5 637) rotate(-90)" font-size="5.2" font-weight="700" text-anchor="middle" fill="#333">8794000</text><text transform="translate(1264 637) rotate(-90)" font-size="5.2" font-weight="700" text-anchor="middle" fill="#333">8794000</text><line x1="19.5" y1="889.8" x2="450" y2="889.8" stroke="#333" stroke-width="0.9"/><text x="20" y="896.4" font-size="4.2" font-family="Liberation Sans, sans-serif" fill="#222" stroke="#222" stroke-width="0.12" textLength="218" lengthAdjust="spacingAndGlyphs">Path: W:\Kolwezi\Resource\May 2021\Kakula Declines and Drives BT_RF_CB_June1_2021\PressReleaseMiningZoom.mxd</text>
</svg>
</body></html>
